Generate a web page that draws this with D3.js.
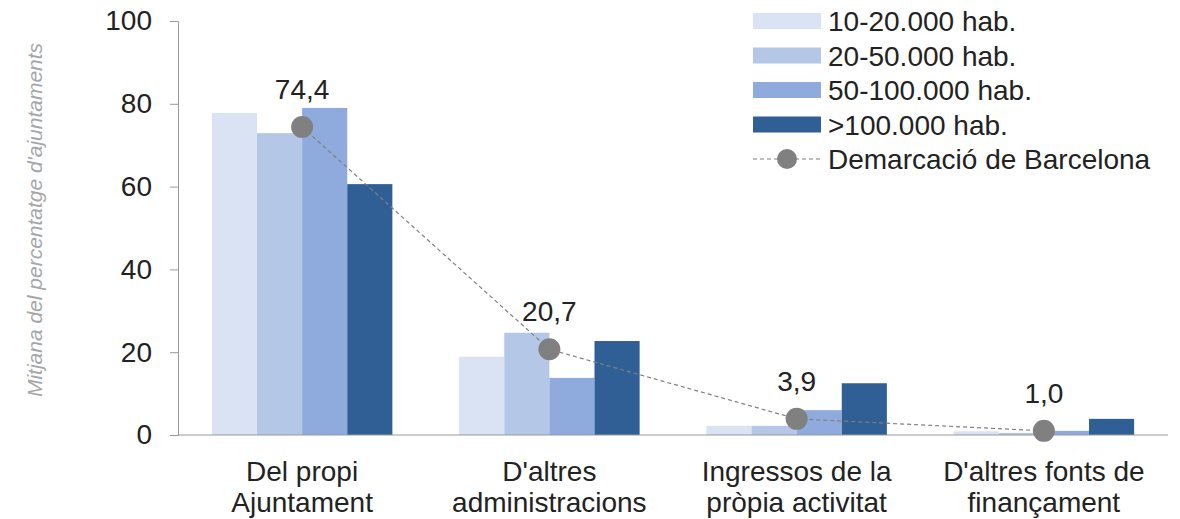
<!DOCTYPE html>
<html>
<head>
<meta charset="utf-8">
<script src="https://cdn.jsdelivr.net/npm/d3@7"></script>
<style>
  body { margin: 0; background: #fff; }
  text { font-family: "Liberation Sans", Arial, sans-serif; }
</style>
</head>
<body>
<div id="chart"></div>
<script>
// Canvas size
var width = 1180;
var height = 519;
var fontSize = 28;

// Chart data
var categories = [["Del propi", "Ajuntament"], ["D'altres", "administracions"], ["Ingressos de la", "pròpia activitat"], ["D'altres fonts de", "finançament"]];
var seriesNames = ["10-20.000 hab.", "20-50.000 hab.", "50-100.000 hab.", ">100.000 hab."];
var hab10_20 = [77.8, 18.9, 2.2, 0.9];
var hab20_50 = [72.9, 24.7, 2.2, 0.5];
var hab50_100 = [79.0, 13.8, 6.0, 1.0];
var hab100plus = [60.6, 22.7, 12.5, 3.9];
var barcelona = [74.4, 20.7, 3.9, 1.0];
var barcelonaLabels = ["74,4", "20,7", "3,9", "1,0"];
var lineName = "Demarcació de Barcelona";
var yTicks = [0, 20, 40, 60, 80, 100];
var colors = ["#dae3f3", "#b4c7e7", "#8faadc", "#2f5f94"];

var series = [hab10_20, hab20_50, hab50_100, hab100plus];

var svg = d3.select("#chart").append("svg")
    .attr("width", width)
    .attr("height", height);

// Scales
var x = d3.scaleBand()
    .domain(d3.range(categories.length))
    .range([178, 1168])
    .paddingInner(0.27)
    .paddingOuter(0.137);

var xSub = d3.scaleBand()
    .domain(d3.range(series.length))
    .range([0, x.bandwidth()]);

var y = d3.scaleLinear()
    .domain([0, 100])
    .range([435, 21]);

// Bars
series.forEach(function(vals, s) {
  svg.append("g").selectAll("rect")
    .data(vals)
    .enter().append("rect")
      .attr("x", function(d, i) { return x(i) + xSub(s); })
      .attr("y", function(d) { return y(d); })
      .attr("width", xSub.bandwidth())
      .attr("height", function(d) { return y(0) - y(d); })
      .attr("fill", colors[s]);
});

// Y axis
var yAxis = svg.append("g")
    .attr("transform", "translate(178,0)")
    .call(d3.axisLeft(y).tickValues(yTicks).tickSize(8).tickPadding(18));
yAxis.select(".domain").attr("stroke", "#999");
yAxis.selectAll(".tick line").attr("stroke", "#999");
yAxis.selectAll(".tick text")
    .attr("font-size", fontSize)
    .attr("fill", "#222")
    .attr("font-family", "Liberation Sans, Arial, sans-serif");

// X axis baseline
svg.append("line")
    .attr("x1", 178).attr("x2", 1168)
    .attr("y1", y(0)).attr("y2", y(0))
    .attr("stroke", "#999");

// Category labels
var catLabels = svg.append("g").selectAll("text")
    .data(categories)
    .enter().append("text")
      .attr("text-anchor", "middle")
      .attr("font-size", fontSize)
      .attr("fill", "#222")
      .attr("x", function(d, i) { return x(i) + x.bandwidth() / 2; })
      .attr("y", 481);
catLabels.each(function(d) {
  var t = d3.select(this);
  d.forEach(function(line, j) {
    t.append("tspan")
      .attr("x", t.attr("x"))
      .attr("dy", j === 0 ? 0 : 31)
      .text(line);
  });
});

// Demarcació line
var cx = function(i) { return x(i) + x.bandwidth() / 2; };
svg.append("path")
    .datum(barcelona)
    .attr("fill", "none")
    .attr("stroke", "#808080")
    .attr("stroke-width", 1.2)
    .attr("stroke-dasharray", "4,3")
    .attr("d", d3.line().x(function(d, i) { return cx(i); }).y(function(d) { return y(d); }));

svg.append("g").selectAll("circle")
    .data(barcelona)
    .enter().append("circle")
      .attr("cx", function(d, i) { return cx(i); })
      .attr("cy", function(d) { return y(d); })
      .attr("r", 11)
      .attr("fill", "#808080");

svg.append("g").selectAll("text")
    .data(barcelona)
    .enter().append("text")
      .attr("text-anchor", "middle")
      .attr("font-size", fontSize)
      .attr("fill", "#222")
      .attr("x", function(d, i) { return cx(i); })
      .attr("y", function(d) { return y(d) - 28; })
      .text(function(d, i) { return barcelonaLabels[i]; });

// Y axis title
svg.append("text")
    .attr("transform", "translate(42,220) rotate(-90)")
    .attr("text-anchor", "middle")
    .attr("font-size", 21)
    .attr("font-style", "italic")
    .attr("fill", "#a6a6a6")
    .text("Mitjana del percentatge d'ajuntaments");

// Legend
var legend = svg.append("g").attr("transform", "translate(753,0)");
seriesNames.forEach(function(name, i) {
  var cy = 21 + i * 34.5;
  legend.append("rect")
    .attr("x", 0).attr("y", cy - 8)
    .attr("width", 68).attr("height", 16)
    .attr("fill", colors[i]);
  legend.append("text")
    .attr("x", 75).attr("y", cy + 10)
    .attr("font-size", fontSize)
    .attr("fill", "#222")
    .text(name);
});
var lcy = 21 + 4 * 34.5;
legend.append("line")
    .attr("x1", 0).attr("x2", 68)
    .attr("y1", lcy).attr("y2", lcy)
    .attr("stroke", "#808080")
    .attr("stroke-width", 1.2)
    .attr("stroke-dasharray", "4,3");
legend.append("circle")
    .attr("cx", 34).attr("cy", lcy).attr("r", 10)
    .attr("fill", "#808080");
legend.append("text")
    .attr("x", 75).attr("y", lcy + 10)
    .attr("font-size", fontSize)
    .attr("fill", "#222")
    .text(lineName);
</script>
</body>
</html>
